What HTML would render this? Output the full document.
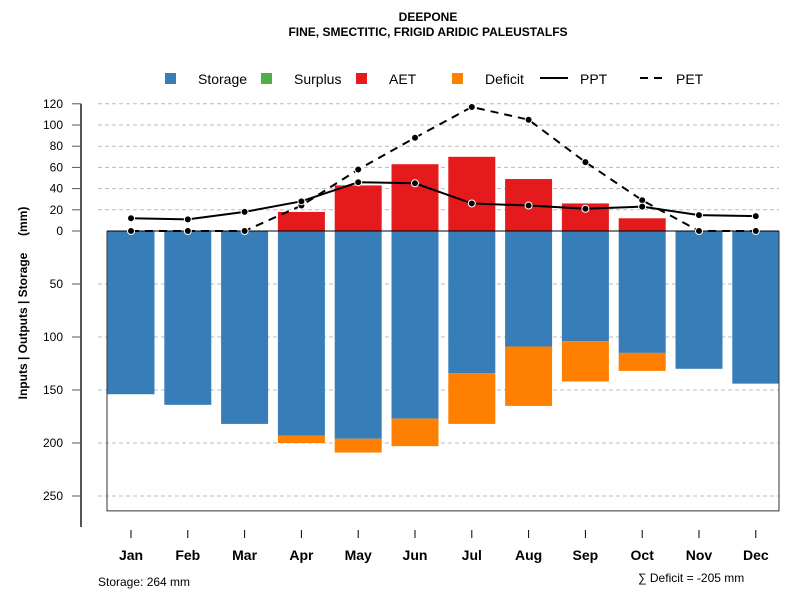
<!DOCTYPE html>
<html><head><meta charset="utf-8"><style>
body{margin:0;background:#fff}
svg text{font-family:"Liberation Sans",sans-serif}
</style></head><body>
<svg id="c" width="800" height="600" xmlns="http://www.w3.org/2000/svg">
<text x="428" y="21" font-size="12" font-weight="bold" text-anchor="middle">DEEPONE</text>
<text x="428" y="36" font-size="12" font-weight="bold" text-anchor="middle">FINE, SMECTITIC, FRIGID ARIDIC PALEUSTALFS</text>
<g id="legend" font-size="14">
<g><rect x="165" y="73" width="11" height="11" fill="#377eb8"/><text x="198" y="84">Storage</text></g>
<g><rect x="261" y="73" width="11" height="11" fill="#4daf4a"/><text x="294" y="84">Surplus</text></g>
<g><rect x="356" y="73" width="11" height="11" fill="#e41a1c"/><text x="389" y="84">AET</text></g>
<g><rect x="452" y="73" width="11" height="11" fill="#ff7f00"/><text x="485" y="84">Deficit</text></g>
<g><line x1="540" y1="78" x2="568" y2="78" stroke="#000" stroke-width="2"/><text x="580" y="84">PPT</text></g>
<g><line x1="640" y1="78" x2="668" y2="78" stroke="#000" stroke-width="2" stroke-dasharray="8,6"/><text x="676" y="84">PET</text></g>
</g>
<g id="grid"></g><g id="bars"></g><g id="lines"></g><g id="axes"></g>
<text x="98" y="586" font-size="12">Storage: 264 mm</text>
<text x="638" y="582" font-size="12">∑ Deficit = -205 mm</text>
<text transform="translate(27,303) rotate(-90)" font-size="12" font-weight="bold" text-anchor="middle" style="white-space:pre">Inputs | Outputs | Storage     (mm)</text>
</svg>
<script>
const months=["Jan","Feb","Mar","Apr","May","Jun","Jul","Aug","Sep","Oct","Nov","Dec"];
const storage=[154,164,182,193,196,177,134,109,104,115,130,144];
const deficit=[0,0,0,7,13,26,48,56,38,17,0,0];
const aet=[0,0,0,18,43,63,70,49,26,12,0,0];
const ppt=[12,11,18,28,46,45,26,24,21,23,15,14];
const pet=[0,0,0,24,58,88,117,105,65,29,0,0];
const posTicks=[0,20,40,60,80,100,120];
const negTicks=[50,100,150,200,250];
const storageCap=264;
const NS="http://www.w3.org/2000/svg";
function y(v){return 231-v*1.06;}
function x(i){return 131+i*56.8;}
function mk(p,t,a){const e=document.createElementNS(NS,t);for(const k in a)e.setAttribute(k,a[k]);document.getElementById(p).appendChild(e);return e;}
const bw=47;
posTicks.concat(negTicks.map(v=>-v)).forEach(v=>{
 if(v!==0){const g=mk("grid","line",{x1:98,x2:779,y1:y(v),y2:y(v),stroke:"#bbb","stroke-dasharray":"4,3"});
 
 }
 const t=mk("axes","line",{x1:72,x2:81,y1:y(v),y2:y(v),stroke:"#555"});
 
 
 const l=mk("axes","text",{x:63,y:y(v)+4,"font-size":12,"text-anchor":"end"});l.textContent=Math.abs(v);
 
 
});
months.forEach((m,i)=>{
 const s=mk("bars","rect",{x:x(i)-bw/2,y:y(0),width:bw,height:storage[i]*1.06,fill:"#377eb8"});
 
 
 if(deficit[i]>0){const d=mk("bars","rect",{x:x(i)-bw/2,y:y(-storage[i]),width:bw,height:deficit[i]*1.06,fill:"#ff7f00"});
 
 }
 if(aet[i]>0){const a=mk("bars","rect",{x:x(i)-bw/2,y:y(aet[i]),width:bw,height:aet[i]*1.06,fill:"#e41a1c"});
 
 }
 const t=mk("axes","line",{x1:x(i),x2:x(i),y1:530,y2:538,stroke:"#000"});
 
 
 const l=mk("axes","text",{x:x(i),y:560,"font-size":14,"font-weight":"bold","text-anchor":"middle"});l.textContent=m;
 
 
});
const zl=mk("bars","line",{x1:107,x2:779,y1:y(0),y2:y(0),stroke:"#000"});


const box=mk("bars","polyline",{points:`107,${y(0)} 107,${y(-storageCap)} 779,${y(-storageCap)} 779,${y(0)}`,fill:"none",stroke:"#333"});


const ax=mk("axes","line",{x1:81,x2:81,y1:y(120),y2:527,stroke:"#555","stroke-width":2});


[[pet,"8,6","pet"],[ppt,null,"ppt"]].forEach(([d,dash,n])=>{
 const a={points:d.map((v,i)=>x(i)+","+y(v)).join(" "),fill:"none",stroke:"#000","stroke-width":2};
 if(dash)a["stroke-dasharray"]=dash;
 const p=mk("lines","polyline",a);
 
 
 d.forEach((v,i)=>{const c=mk("lines","circle",{cx:x(i),cy:y(v),r:3.5,fill:"#000",stroke:"#fff","stroke-width":1});
 
 });
});
</script>
</body></html>
